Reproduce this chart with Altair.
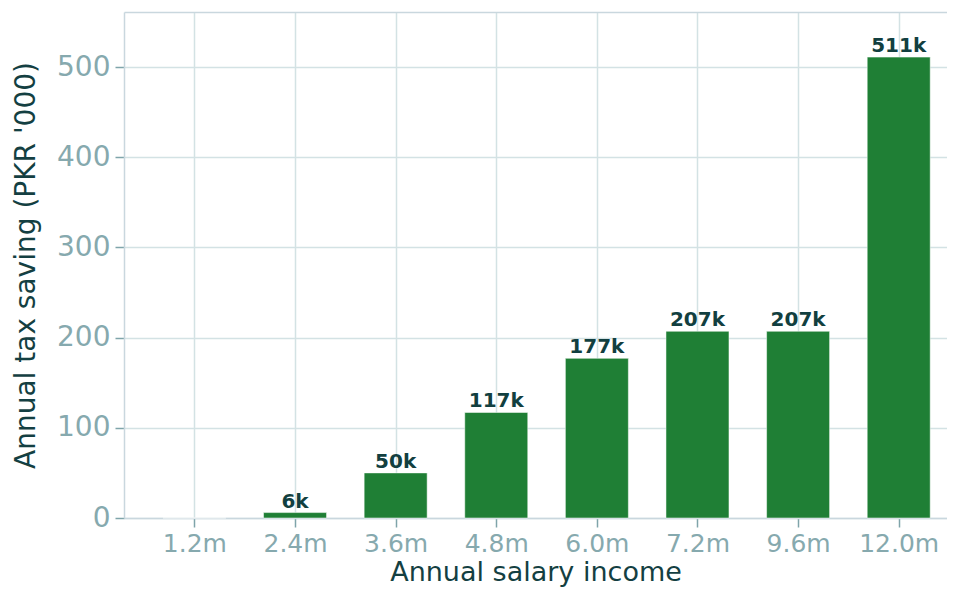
import altair as alt
import pandas as pd

salary_labels = ["1.2m", "2.4m", "3.6m", "4.8m", "6.0m", "7.2m", "9.6m", "12.0m"]
tax_saving = [0, 6, 50, 117, 177, 207, 207, 511]
bar_labels = ["", "6k", "50k", "117k", "177k", "207k", "207k", "511k"]

df = pd.DataFrame({
    "idx": list(range(len(salary_labels))),
    "salary": salary_labels,
    "saving": tax_saving,
    "label": bar_labels,
})

label_expr = "[" + ",".join(f"'{s}'" for s in salary_labels) + "][datum.value]"

x_scale = alt.Scale(domain=[-0.7, 7.48], nice=False, zero=False, padding=0)

bars = alt.Chart(df).mark_bar(
    size=63, color="#1f7f35", stroke="#ffffff", strokeOpacity=0.5, strokeWidth=1
).encode(
    x=alt.X(
        "idx:Q",
        scale=x_scale,
        axis=alt.Axis(
            values=list(range(len(salary_labels))),
            labelExpr=label_expr,
            title="Annual salary income",
        ),
    ),
    y=alt.Y(
        "saving:Q",
        scale=alt.Scale(domain=[0, 561], nice=False, padding=0),
        axis=alt.Axis(values=[0, 100, 200, 300, 400, 500], title="Annual tax saving (PKR '000)"),
    ),
)

text = alt.Chart(df).transform_filter("datum.saving > 0").mark_text(
    baseline="bottom", dy=-1, fontSize=20, fontWeight="bold", color="#123f40", font="DejaVu Sans"
).encode(
    x=alt.X(
        "idx:Q",
        scale=x_scale,
        axis=alt.Axis(orient="top", labels=False, ticks=False, grid=False, title=None, domain=True),
    ),
    y="saving:Q",
    text="label:N",
)

chart = (bars + text).resolve_axis(x="independent").properties(
    width=823, height=506,
    padding={"left": 116, "top": 4, "right": 0, "bottom": 74},
    autosize=alt.AutoSizeParams(type="none"),
).configure_view(
    stroke=None
).configure_axis(
    zindex=1,
    grid=True,
    gridColor="#d3e2e4",
    gridWidth=1.5,
    domainColor="#c9d7de",
    domainWidth=1.5,
    tickColor="#7fa4aa",
    tickSize=9,
    tickWidth=1.5,
    labelColor="#86a9ae",
    labelFont="DejaVu Sans",
    labelFontSize=28,
    titleFont="DejaVu Sans",
    titleFontSize=28,
    titleFontWeight="normal",
    titleColor="#143f42",
).configure_axisY(
    labelPadding=5, titlePadding=16
).configure_axisX(
    labelPadding=4, titlePadding=3, labelFontSize=25, titleFontSize=27
)

chart.save("out.html", embed_options={"renderer": "svg", "actions": False})
